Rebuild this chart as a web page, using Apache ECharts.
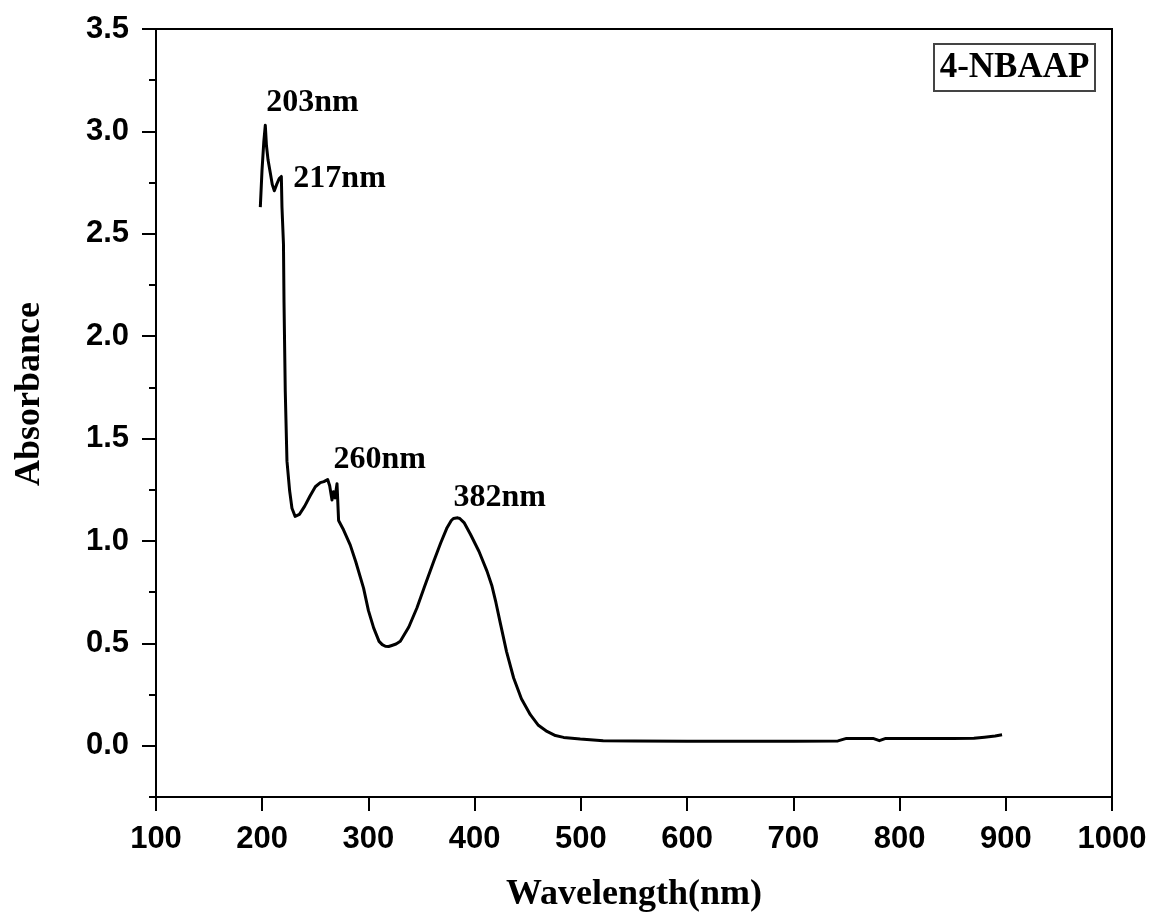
<!DOCTYPE html>
<html>
<head>
<meta charset="utf-8">
<script src="https://cdn.jsdelivr.net/npm/echarts@6/dist/echarts.min.js"></script>
<style>
  html, body { margin: 0; padding: 0; background: #fff; }
  #chart { width: 1154px; height: 923px; }
</style>
</head>
<body>
<div id="chart"></div>
<script>
// spectrum
var wavelength = [198.2, 199.8, 201.5, 202.9, 204, 205.5, 207.5, 209.5, 211.4, 213.5, 216, 218, 218.6, 220, 220.5,
    221.7, 223.3, 225.8, 228, 231, 235, 240, 245, 250, 254.7, 258, 261.6, 263.5, 265.7, 267, 268.5, 270.4, 271.9,
    276, 282.9, 288, 295.4, 300, 304.9, 310, 313, 315.9, 319, 322, 326, 330, 338, 345.7, 353, 361.4, 368, 374, 378, 380,
    381.8, 384, 386, 390, 396, 404, 411.6, 416.3, 420, 424.1, 430, 436.7, 444, 452.4, 460, 468.1, 476, 483.7, 499.4,
    521, 550, 600, 650, 700, 742, 750, 775, 781, 787, 800, 850, 870, 880, 890, 896.5];
var absorbance = [2.63, 2.81, 2.95, 3.03, 2.93, 2.86, 2.80, 2.74, 2.71, 2.74, 2.77, 2.78, 2.63, 2.45, 2.17,
    1.73, 1.39, 1.245, 1.16, 1.12, 1.13, 1.17, 1.22, 1.265, 1.285, 1.29, 1.30, 1.27, 1.20, 1.24, 1.21, 1.28, 1.10,
    1.06, 0.98, 0.90, 0.77, 0.66, 0.576, 0.51, 0.494, 0.486, 0.485, 0.49, 0.497, 0.51, 0.58, 0.674, 0.78, 0.90, 0.99, 1.065, 1.10, 1.11,
    1.114, 1.113, 1.11, 1.09, 1.033, 0.95, 0.853, 0.78, 0.70, 0.60, 0.46, 0.331, 0.23, 0.152, 0.10, 0.070, 0.05, 0.041, 0.033,
    0.025, 0.023, 0.022, 0.022, 0.022, 0.024, 0.036, 0.036, 0.025, 0.036, 0.036, 0.036, 0.037, 0.042, 0.048, 0.054];

// peak labels (text anchor in data coords)
var peakText = ['203nm', '217nm', '260nm', '382nm'];
var peakX = [203.8, 229.3, 267, 380];
var peakY = [3.138, 2.771, 1.397, 1.211];

var yMajor = [0, 0.5, 1.0, 1.5, 2.0, 2.5, 3.0, 3.5];
var yMinor = [-0.25, 0.25, 0.75, 1.25, 1.75, 2.25, 2.75, 3.25];

var serifBold = {fontFamily: 'Liberation Serif', fontWeight: 'bold', color: '#000'};
var tickFont = {fontFamily: 'Liberation Sans', fontWeight: 'bold', fontSize: 31, color: '#000'};

function _zip(a, b) {
    var out = [];
    for (var i = 0; i < a.length; i++) out.push([a[i], b[i]]);
    return out;
}
function _ext(a, b) {
    var o = {};
    for (var k in a) o[k] = a[k];
    for (var k2 in b) o[k2] = b[k2];
    return o;
}

var points = _zip(wavelength, absorbance);

var labelData = [];
for (var i = 0; i < peakText.length; i++) {
    labelData.push({
        coord: [peakX[i], peakY[i]],
        value: peakText[i],
        label: {
            show: true,
            position: 'right',
            distance: 0,
            formatter: peakText[i],
            fontFamily: 'Liberation Serif',
            fontWeight: 'bold',
            fontSize: 32,
            color: '#000'
        }
    });
}

var option = {
    backgroundColor: '#fff',
    animation: false,
    grid: {
        left: 156,
        right: 42,
        top: 29,
        bottom: 126,
        show: true,
        borderColor: '#000',
        borderWidth: 2,
        backgroundColor: 'transparent'
    },
    xAxis: {
        type: 'value',
        min: 100,
        max: 1000,
        interval: 100,
        name: 'Wavelength(nm)',
        nameLocation: 'middle',
        nameGap: 80,
        nameTextStyle: _ext(serifBold, {fontSize: 36}),
        axisLine: {show: true, onZero: false, lineStyle: {color: '#000', width: 2}},
        axisTick: {show: true, inside: false, length: 14, lineStyle: {color: '#000', width: 2}},
        axisLabel: _ext(tickFont, {margin: 27, formatter: function (v) { return String(v); }}),
        splitLine: {show: false}
    },
    yAxis: [
        {
            type: 'value',
            min: -0.25,
            max: 3.5,
            name: 'Absorbance',
            nameLocation: 'middle',
            nameGap: 108,
            nameRotate: 90,
            nameTextStyle: _ext(serifBold, {fontSize: 36, padding: [0, 0, 0, 38]}),
            axisLine: {show: true, lineStyle: {color: '#000', width: 2}},
            axisTick: {show: true, length: 14, customValues: yMajor, lineStyle: {color: '#000', width: 2}},
            axisLabel: _ext(tickFont, {margin: 27, customValues: yMajor, formatter: function (v) { return v.toFixed(1); }}),
            splitLine: {show: false}
        },
        {
            type: 'value',
            min: -0.25,
            max: 3.5,
            position: 'left',
            axisLine: {show: false},
            axisTick: {show: true, length: 7, customValues: yMinor, lineStyle: {color: '#000', width: 2}},
            axisLabel: {show: false},
            splitLine: {show: false}
        }
    ],
    graphic: [
        {
            type: 'rect',
            shape: {x: 934, y: 44, width: 161, height: 47},
            style: {fill: '#fff', stroke: '#444', lineWidth: 2}
        },
        {
            type: 'text',
            x: 1014.5,
            y: 68,
            style: {
                text: '4-NBAAP',
                fontFamily: 'Liberation Serif',
                fontWeight: 'bold',
                fontSize: 35,
                fill: '#000',
                align: 'center',
                verticalAlign: 'middle'
            }
        }
    ],
    series: [
        {
            type: 'line',
            data: points,
            yAxisIndex: 0,
            showSymbol: false,
            symbol: 'none',
            smooth: false,
            lineStyle: {color: '#000', width: 3, join: 'round'},
            markPoint: {
                symbol: 'circle',
                symbolSize: 0,
                data: labelData
            }
        }
    ]
};

var chart = echarts.init(document.getElementById('chart'));
chart.setOption(option);
window.addEventListener('resize', chart.resize);
</script>
</body>
</html>
